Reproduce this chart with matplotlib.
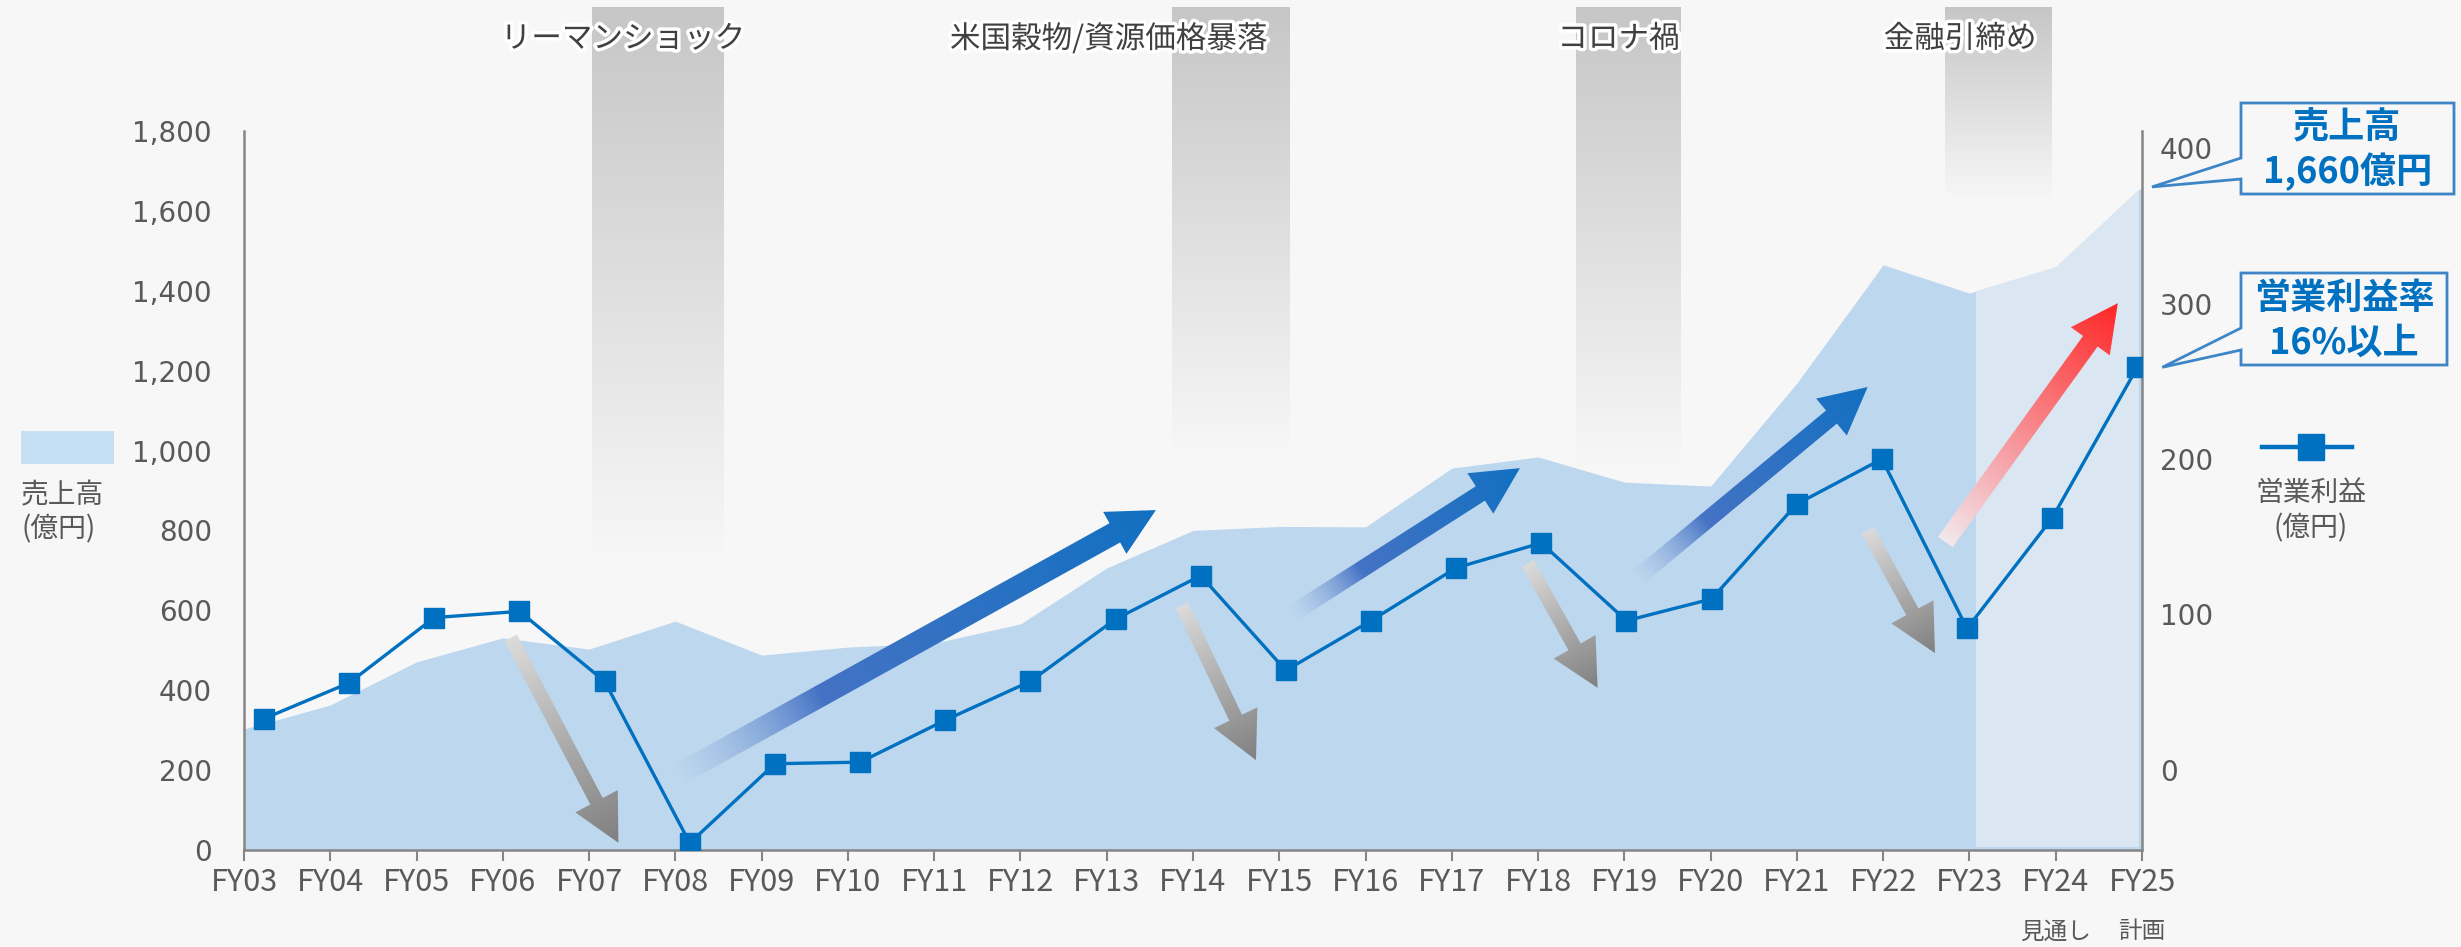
import numpy as np
import matplotlib
matplotlib.use('Agg')
import matplotlib.pyplot as plt
import matplotlib.patheffects as pe
from matplotlib.patches import Polygon, Rectangle
from matplotlib.lines import Line2D
from matplotlib.ticker import FuncFormatter

plt.rcParams['font.family'] = ['Noto Sans CJK JP', 'DejaVu Sans']

# data
years = ['FY03', 'FY04', 'FY05', 'FY06', 'FY07', 'FY08', 'FY09', 'FY10', 'FY11', 'FY12', 'FY13', 'FY14',
         'FY15', 'FY16', 'FY17', 'FY18', 'FY19', 'FY20', 'FY21', 'FY22', 'FY23', 'FY24', 'FY25']
year_notes = {'FY24': '見通し', 'FY25': '計画'}
sales = [303, 363, 471, 531, 503, 573, 488, 508, 518, 566, 706, 800,
         810, 809, 956, 984, 921, 911, 1169, 1465, 1394, 1459, 1660]
op_profit = [33, 56, 98, 102, 57, -47, 4, 5, 32, 57, 97, 125,
             64, 96, 130, 146, 96, 110, 171, 200, 91, 162, 259]
events = ['リーマンショック', '米国穀物/資源価格暴落', 'コロナ禍', '金融引締め']
sales_ticks = [0, 200, 400, 600, 800, 1000, 1200, 1400, 1600, 1800]
profit_ticks = [0, 100, 200, 300, 400]

# layout (x in category units, y in pixels from the top)
W, H = 2461, 947
BG = '#f7f7f7'
AREA = '#bdd7ee'
AREA_FCST = '#dae6f2'
BLUE = '#0070c0'
GRID = '#868686'
TXT = '#595959'
LINE_X0, LINE_STEP = 0.232, 0.987      # the line series sits slightly off the ticks
FCST_X0, FCST_X1 = 20.08, 21.96
band_x = [(4.03, 5.56), (10.76, 12.12), (15.44, 16.66), (19.72, 20.96)]
band_bottom = [560, 455, 470, 200]
event_text_x = [4.39, 10.02, 15.93, 19.89]

fig = plt.figure(figsize=(W / 100, H / 100), dpi=100, facecolor=BG)

bg = fig.add_axes([0, 0, 1, 1], zorder=0)
bg.set_axis_off()
ax = fig.add_axes([244 / W, 1 - 850 / H, (2142 - 244) / W, (850 - 131) / H], zorder=1)
ax.patch.set_alpha(0)
ax2 = ax.twinx()
ax2.set_zorder(2)
ov = fig.add_axes([0, 0, 1, 1], zorder=3)
ov.set_axis_off()
for a in (bg, ov):
    a.set_xlim(0, W)
    a.set_ylim(H, 0)

x = np.arange(len(years))
line_x = LINE_X0 + x * LINE_STEP

# sales area
ax.set_xlim(0, len(years) - 1)
ax.set_ylim(0, 1800)
area = ax.fill_between(x, sales, color=AREA, lw=0, zorder=1)
fc = Rectangle((FCST_X0, 8), FCST_X1 - FCST_X0, 3000, color=AREA_FCST, lw=0, zorder=2)
ax.add_patch(fc)
fc.set_clip_path(area.get_paths()[0], ax.transData)

ax.set_xticks(x)
ax.set_xticklabels(years, fontsize=22, color=TXT)
ax.tick_params(axis='x', direction='out', length=8, width=1.5, color=GRID, pad=4)
ax.set_yticks(sales_ticks)
ax.yaxis.set_major_formatter(FuncFormatter(lambda v, p: f'{int(v):,}'))
ax.tick_params(axis='y', length=0, pad=23, labelsize=20, labelcolor=TXT,
               labelfontfamily='DejaVu Sans')
for s in ('top', 'right'):
    ax.spines[s].set_visible(False)
for s in ('left', 'bottom'):
    ax.spines[s].set_color(GRID)
    ax.spines[s].set_linewidth(1.8)

for i, y in enumerate(years):
    if y in year_notes:
        ax.text(i, -0.114, year_notes[y], transform=ax.get_xaxis_transform(),
                ha='center', va='center', fontsize=17, color=TXT)

# operating profit line
ax2.set_ylim(-51.5, 411)
ax2.plot(line_x, op_profit, color=BLUE, lw=2.4, marker='s', ms=14, mfc=BLUE, mec=BLUE, zorder=3)
ax2.set_yticks(profit_ticks)
ax2.tick_params(axis='y', length=0, pad=13, labelsize=20, labelcolor=TXT,
                labelfontfamily='DejaVu Sans')
for s in ('top', 'left', 'bottom'):
    ax2.spines[s].set_visible(False)
ax2.spines['right'].set_color(GRID)
ax2.spines['right'].set_linewidth(1.8)


def to_px(axes, xv, yv):
    dx, dy = axes.transData.transform((xv, yv))
    return np.array([dx, H - dy])


def gradient_fill(axo, pts, rgba_fn, zorder):
    poly = Polygon(pts, closed=True, fc='none', ec='none', transform=axo.transData)
    axo.add_patch(poly)
    pts = np.asarray(pts)
    x0, y0 = np.floor(pts.min(axis=0)) - 1
    x1, y1 = np.ceil(pts.max(axis=0)) + 1
    X, Y = np.meshgrid(np.arange(x0, x1) + 0.5, np.arange(y0, y1) + 0.5)
    im = axo.imshow(rgba_fn(X, Y), extent=(x0, x1, y1, y0), origin='upper',
                    interpolation='bilinear', aspect='auto', zorder=zorder)
    im.set_clip_path(poly)


def ramp(t, stops):
    out = np.zeros(t.shape + (4,))
    pos = [s[0] for s in stops]
    for k in range(4):
        out[..., k] = np.interp(t, pos, [s[1][k] for s in stops])
    return out


# grey event bands, fading downwards
for (bx0, bx1), bot in zip(band_x, band_bottom):
    px0 = to_px(ax, bx0, 0)[0]
    px1 = to_px(ax, bx1, 0)[0]
    top = 7
    stops = [(0, (0.78, 0.78, 0.78, 1)), (1, (0.78, 0.78, 0.78, 0))]
    gradient_fill(bg, [(px0, top), (px1, top), (px1, bot), (px0, bot)],
                  lambda X, Y, top=top, bot=bot, st=stops: ramp(np.clip((Y - top) / (bot - top), 0, 1), st), 1)

for name, ex in zip(events, event_text_x):
    ov.text(to_px(ax, ex, 0)[0], 39, name, ha='center', va='center', fontsize=22, color='#404040',
            path_effects=[pe.withStroke(linewidth=5, foreground='white')], zorder=6)

# trend arrows (tail, tip in category / sales units)
gray = [(0, (0.86, 0.86, 0.86, 1)), (1, (0.50, 0.50, 0.50, 1))]
blue = [(0, (0.55, 0.67, 0.87, 0.0)), (0.3, (0.27, 0.45, 0.77, 1)), (1, (0.07, 0.44, 0.76, 1))]
red = [(0, (0.95, 0.91, 0.93, 1)), (0.45, (0.97, 0.56, 0.58, 1)), (1, (1.0, 0.15, 0.15, 1))]
arrows = [
    ((3.09, 531), (4.34, 18), 14, gray),
    ((5.03, 188), (10.57, 851), 22, blue),
    ((10.87, 613), (11.73, 225), 14, gray),
    ((12.16, 593), (14.79, 956), 17, blue),
    ((14.88, 718), (15.69, 406), 14, gray),
    ((16.15, 681), (18.82, 1159), 17, blue),
    ((18.82, 801), (19.60, 493), 14, gray),
    ((19.72, 771), (21.72, 1369), 18, red),
]
for tail, tip, wid, stops in arrows:
    p0 = to_px(ax, *tail)
    p1 = to_px(ax, *tip)
    d = p1 - p0
    L = np.hypot(*d)
    u = d / L
    n = np.array([-u[1], u[0]])
    b = p1 - u * 47
    pts = [p0 + n * wid / 2, b + n * wid / 2, b + n * 24, p1, b - n * 24, b - n * wid / 2, p0 - n * wid / 2]
    gradient_fill(ov, pts, lambda X, Y, p0=p0, u=u, L=L, st=stops:
                  ramp(np.clip(((X - p0[0]) * u[0] + (Y - p0[1]) * u[1]) / L, 0, 1), st), 4)

# callouts on the right
def callout(box, base, tip, lines):
    bx0, by0, bx1, by1 = box
    pts = [(bx0, by0), (bx1, by0), (bx1, by1), (bx0, by1), (bx0, base[1]), tip, (bx0, base[0])]
    ov.add_patch(Polygon(pts, closed=True, fc=BG, ec='#3d85c6', lw=2, zorder=5))
    for (txt, ty) in lines:
        ov.text((bx0 + bx1) / 2, ty, txt, ha='center', va='center', fontsize=26,
                fontweight='bold', color=BLUE, zorder=6)


tip1 = to_px(ax, x[-1], sales[-1]) + np.array([10, 0])
callout((2241, 103, 2454, 194), (158, 179), tip1, [('売上高', 128), (f'{sales[-1]:,}億円', 172)])
tip2 = to_px(ax2, line_x[-1], op_profit[-1]) + np.array([25, 0])
callout((2241, 273, 2447, 365), (328, 350), tip2, [('営業利益率', 298), ('16%以上', 343)])

# legends
ov.add_patch(Rectangle((21, 431), 93, 33, color='#c5dff5', lw=0))
ov.text(21, 495, '売上高', ha='left', va='center', fontsize=20, color=TXT)
ov.text(21, 529, '(億円)', ha='left', va='center', fontsize=20, color=TXT)
ov.add_line(Line2D([2262, 2352], [447, 447], color=BLUE, lw=3.2))
ov.add_line(Line2D([2311], [447], color=BLUE, marker='s', ms=19, mec=BLUE))
ov.text(2311, 493, '営業利益', ha='center', va='center', fontsize=20, color=TXT)
ov.text(2311, 528, '(億円)', ha='center', va='center', fontsize=20, color=TXT)

for a in (bg, ov):
    a.set_xlim(0, W)
    a.set_ylim(H, 0)

fig.savefig('out.png', dpi=100, facecolor=BG)
